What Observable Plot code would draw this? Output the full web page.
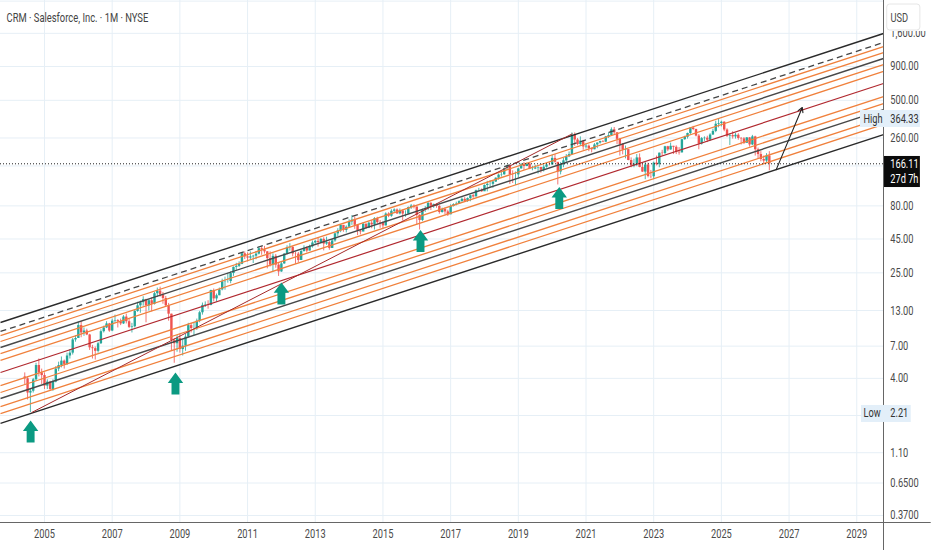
<!DOCTYPE html>
<html><head><meta charset="utf-8">
<script src="https://cdn.jsdelivr.net/npm/d3@7"></script>
<script src="https://cdn.jsdelivr.net/npm/@observablehq/plot@0.6"></script>
<style>html,body{margin:0;padding:0;background:#fff;overflow:hidden}svg{display:block}</style>
</head><body><div id="chart"></div>
<script>
const firstMonth = 2004 + 5/12;
const firstOpen = 4.1;
const closes = [
3.97,3.1,3.2,3.9,5.0,4.4,4.2,
3.5,3.75,3.3,3.75,4.7,5.0,5.4,5.1,5.9,6.2,7.8,8.0,
10.0,8.8,9.1,8.5,6.8,6.7,6.4,7.3,9,9.6,10.3,9.1,
10.8,10.9,10.7,10.3,11.6,10.7,9.7,9.8,12.8,14.1,14.9,15.7,
14.1,15.4,14.5,17.4,18.2,17,16,14.1,12.2,7.7,7.3,8,
6.6,7,8.2,10,9.5,9.5,10.8,12.5,14.2,14.3,14.2,18.4,
15.9,16.8,18.6,21.4,21.5,21.5,24.7,27.5,28,29,34.8,33,
32.3,33,33.4,34.6,38,37.2,36,32,28.6,33.3,28.6,25.4,
29.2,34.6,38.6,38.9,34.7,34.6,31,36.2,38.2,36.5,39.3,42,
43.2,42.3,44.7,41.2,42.3,38.2,43.5,49.2,51.9,57,52.2,55.2,
60.5,62.4,57.1,51.6,50.8,58.1,54.3,59.2,57.5,64,59.8,59.3,
56.5,69.4,66.8,72.8,74.5,69.6,73.2,69.4,69.4,77.7,79.7,78.4,
68,62.1,73.8,75.8,83.7,79.4,81.8,79.3,71.3,75.2,72,68.5,
79.1,81.8,82.5,86.1,89.6,86.6,90.8,95.4,93.4,104.1,104.4,102.2,
113.9,116.3,116.3,121,129.3,136.4,137.2,152.7,159,137.2,137,137,
152,163,158.4,165.4,151.4,151.7,154.5,156,148.4,156.5,162.8,162.6,
182.4,170.4,144,162.9,174.9,187.3,195,272.6,251,232.3,246,222.5,
225.6,216.4,211.9,230.3,238.1,244.3,242,265.3,271.2,299.7,284.6,254.1,
232.3,210.5,212.3,175.9,160.2,165,184,156,143.8,162.6,133,132.6,
168.1,163.6,199.8,198.3,223.2,211.3,225,221.3,202.8,200.8,252.3,263.1,
281.1,308.8,301.2,268.9,234.4,257,259,250,273.7,291.4,330,334.3,
341.7,298.6,268.3,271,265,272.7,258,256,237,260.4,230.5,265,
212,195,179,174,190,166.11];
const highs = [
4.4,4.1,3.3,4.0,5.2,5.6,4.7,
4.4,3.9,3.8,3.9,4.9,5.3,5.8,5.5,6.2,6.6,8,8.4,
10.6,10.7,9.6,9.4,8.6,7.1,6.9,7.5,9.3,9.9,10.7,10.4,
11.2,12,11.1,11.2,11.9,12.2,11.3,10.4,13.1,15,15.3,16.5,
15.8,15.7,16.2,17.8,19.2,19.5,17.8,16.6,14.7,12.2,8,8.4,
8.6,7.8,8.6,10.4,10.4,10.5,11.2,12.8,14.8,15.1,15.4,18.5,
18.9,17.3,19.2,22.4,23.2,24.8,25.5,27.7,29.5,30.3,35.3,36,
35.4,36,33.9,36.2,39.2,39.4,39.6,36.2,36,34.8,34.4,29.9,
29.9,35,40,41.5,39.5,35.8,35.6,37,40,39.2,40.4,43.5,
44,46,45.3,46,46.4,43,44.6,50,53.8,57.8,57,56.5,
62.8,67.5,66,57.5,52.9,59.9,58.7,60.2,61.7,65.2,65.6,62,
60.6,70.9,71,74.8,76,75.9,75.8,74.4,73.4,78.5,82,81.5,
78.3,68.4,75.6,79,84.5,84.5,82.6,82.8,80.3,76.9,77,74.2,
81.5,83,85.3,87.4,91.8,92.3,91.9,96.1,97.5,105.1,108.5,107.3,
115,122.5,124,123,130,139,143,154,162,161,147,144,
154,167,170,168,168,159,162,157,155,161,165,170,
193,195,169,170,183,195,204,284,284,258,265,250,
234,230,218,236,239,246,249,267,285,310,312,285,
258,236,226,213,184,180,195,197,165,170,168,148,
171,190,200,210,225,225,238,225,227,220,254,268,
283,310,318,303,276,262,265,268,280,303,348,364.33,
348,345,305,278,290,282,280,262,262,262,262,272,
268,218,205,190,198,205];
const lows = [
3.6,2.75,2.21,3.1,3.8,4.1,3.6,
3.3,3.3,3.2,3.2,3.7,4.5,4.8,4.7,5,5.6,6,7.5,
8,8.1,8.3,8.4,6.5,5.6,5.5,6.2,7.2,8.8,9.5,8.9,
9,10.4,9.6,10,10.2,10.3,9.5,8.8,9.6,12.6,12.4,14,
10.5,12.9,12.7,14.3,16.3,16.4,14.5,13.8,10.8,6.4,5.2,6.3,
6.2,5.9,6.4,8.1,8.8,8.4,9.2,10.5,12,13.7,13.3,14.1,
15.1,15,16.8,18.3,18.5,20.9,20.7,23.5,26.1,27.4,28.8,31.5,
30.2,31,29.4,31.4,34.1,33.9,34.7,26.8,27.7,25.5,27.1,23.5,
25.2,29,34.1,36.5,33,29,29.8,31,35.8,35.4,36.6,38.4,
41.1,39.1,41.3,36.6,40.3,37,38.2,42.5,46.8,50.2,50.6,50,
54.5,57,53.2,47.7,48.3,50.9,53.2,53.9,53.8,52.6,58.3,54.2,
53.4,56.3,65.2,65.6,70.5,68.8,68.4,61.5,65.6,68.6,75.2,75.9,
57.5,52.6,60.9,71.4,73.6,73.8,76.6,76.7,69.2,70.4,68.3,66.5,
68.6,78.4,80,82.4,85.5,86,85,85.9,91.3,93.8,103,101,
102.5,102,109.3,108.5,120,125,132,136,148,116,118,114,
130,151,148,158,150,147,150,139,141,144,154,160,
163,168,115,137,155,165,185,192,225,227,225,210,
215,205,201,212,216,234,240,240,258,270,275,232,
190,194,181,175,155,155,158,155,143,126,130,128,
126,160,155,190,195,205,210,195,195,193,200,250,
255,275,295,265,212,230,245,240,245,272,285,310,
315,290,262,228,255,255,250,230,232,238,222,228,
190,180,172,164,170,147];

const xDomain = [2003.70, 2029.79];
const yDomain = [0.3275, 2830];
const yearTicks = [2005,2007,2009,2011,2013,2015,2017,2019,2021,2023,2025,2027,2029];
const priceTicks = [1600,900,500,260,160,80,45,25,13,7,4,2.1,1.1,0.65,0.37];
const priceLabels = ["1,600.00","900.00","500.00","260.00","160.00","80.00","45.00","25.00","13.00","7.00","4.00","2.10","1.10","0.6500","0.3700"];

// Channel lines: price at the left and right edges of the plot, and their kinds
const channelLeft  = [10.55,9.03,8.42,7.59,6.84,6.16,5.46,4.43,3.53,3.13,2.82,2.45,2.17,1.83];
const channelRight = [1595,1365,1273,1147,1033,931,825,670,534,473,426,371,329,276];
const channelKind  = ["edge","dash","fib","fib","mid","fib","fib","median","fib","fib","mid","fib","fib","edge"];
const kindColor = {edge:"#2a2a2a",dash:"#444444",fib:"#f0803c",mid:"#484848",median:"#b0292f"};
const kindWidth = {edge:1.4,dash:1.3,fib:1.3,mid:1.4,median:1.2};

const signalYears  = [2004.59,2008.87,2012.0,2016.11,2020.21];
const signalPrices = [1.59,3.66,17.5,43.5,91.7];

const lastPrice = 166.11, highPrice = 364.33, lowPrice = 2.21;
const font = "Roboto,sans-serif";
const textColor = "#4a4a4a";

const candles = closes.map((c,i)=>({
  t: firstMonth + i/12, o: i ? closes[i-1] : firstOpen, c, h: highs[i], l: lows[i],
  col: c >= (i ? closes[i-1] : firstOpen) ? "#26a69a" : "#ef5350"
}));
const channels = channelLeft.map((v,i)=>({l:v,r:channelRight[i],k:channelKind[i]}));
const signals = signalYears.map((x,i)=>({x,y:signalPrices[i]}));
const axisLabels = priceTicks.map((y,i)=>({x:2029.99,y,t:priceLabels[i]}));
const upArrow = {draw(ctx,size){
  const k = Math.sqrt(size/Math.PI);
  ctx.moveTo(0,-k); ctx.lineTo(.7*k,-.05*k); ctx.lineTo(.36*k,-.05*k);
  ctx.lineTo(.36*k,k); ctx.lineTo(-.36*k,k); ctx.lineTo(-.36*k,-.05*k);
  ctx.lineTo(-.7*k,-.05*k); ctx.closePath();
}};
const boxes = [
  {x1:2029.11,x2:2030.88,y1:312,y2:419,fill:"#e3eff9"},
  {x1:2029.14,x2:2030.61,y1:1.86,y2:2.50,fill:"#e3eff9"},
  {x1:2029.82,x2:2030.88,y1:110,y2:188.6,fill:"#0b0b0b"}
];
const labels = [
  {x:2029.2,y:highPrice,t:"High",fill:"#333"},
  {x:2029.99,y:highPrice,t:"364.33",fill:"#333"},
  {x:2029.2,y:lowPrice,t:"Low",fill:"#333"},
  {x:2029.99,y:lowPrice,t:"2.21",fill:"#333"},
  {x:2029.99,y:lastPrice,t:"166.11",fill:"#fff"},
  {x:2029.99,y:126.5,t:"27d 7h",fill:"#fff"}
];

const plot = Plot.plot({
  width:932, height:550, marginLeft:0, marginRight:49, marginTop:0, marginBottom:28,
  style:{fontFamily:font, fontSize:"12px", background:"#fff", color:textColor},
  x:{type:"linear", domain:xDomain},
  y:{type:"log", domain:yDomain, axis:null},
  marks:[
    Plot.gridX(yearTicks,{stroke:"#e6eff6",strokeOpacity:1}),
    Plot.gridY([2800,...priceTicks],{stroke:"#e6eff6",strokeOpacity:1}),
    Plot.ruleX(candles,{x:"t",y1:"l",y2:"h",stroke:"col",strokeWidth:1,strokeOpacity:.8}),
    Plot.ruleX(candles,{x:"t",y1:"o",y2:"c",stroke:"col",strokeWidth:2.4}),
    Plot.link(channels.filter(d=>d.k!=="dash"),{x1:()=>xDomain[0],x2:()=>xDomain[1],y1:"l",y2:"r",
      stroke:d=>kindColor[d.k],strokeWidth:d=>kindWidth[d.k]}),
    Plot.link(channels.filter(d=>d.k==="dash"),{x1:()=>xDomain[0],x2:()=>xDomain[1],y1:"l",y2:"r",
      stroke:d=>kindColor[d.k],strokeWidth:d=>kindWidth[d.k],strokeDasharray:"6,4"}),
    Plot.link([{a:2004.62,b:2.21,c:2020.6,d:280}],{x1:"a",y1:"b",x2:"c",y2:"d",stroke:"#a52a2a",strokeWidth:1}),
    Plot.arrow([{a:2026.62,b:150,c:2027.39,d:441}],{x1:"a",y1:"b",x2:"c",y2:"d",bend:0,headLength:7,stroke:"#222",strokeWidth:1.1}),
    Plot.dot(signals,{x:"x",y:"y",r:11,symbol:upArrow,fill:"#0b9a82",stroke:"none"}),
    Plot.ruleY([lastPrice],{x1:xDomain[0],x2:xDomain[1],stroke:"#222",strokeDasharray:"1,2",strokeWidth:1}),
    Plot.ruleX([xDomain[1]],{y1:0.01,y2:1e5,stroke:"#666"}),
    Plot.ruleY([yDomain[0]],{x1:2003,x2:2031.2,stroke:"#666"}),
    Plot.axisX({ticks:yearTicks,tickSize:0,tickPadding:7,tickFormat:d=>String(d),label:null,fontSize:12.5,fill:textColor,anchor:"bottom"}),
    Plot.text(axisLabels,{x:"x",y:"y",text:"t",textAnchor:"start",fill:textColor,fontSize:12.5}),
    Plot.rect([{x1:2029.85,x2:2031.2,y1:1652,y2:2830}],{x1:"x1",x2:"x2",y1:"y1",y2:"y2",fill:"#fff"}),
    Plot.rect([{x1:2029.90,x2:2030.88,y1:1681,y2:2640}],{x1:"x1",x2:"x2",y1:"y1",y2:"y2",fill:"#fff",stroke:"#e6e6e6",rx:3}),
    Plot.text([{x:2030.0,y:2105}],{x:"x",y:"y",text:()=>"USD",textAnchor:"start",fill:textColor,fontSize:12.5}),
    Plot.rect(boxes,{x1:"x1",x2:"x2",y1:"y1",y2:"y2",fill:d=>d.fill}),
    Plot.text(labels,{x:"x",y:"y",text:"t",fill:"fill",textAnchor:"start",fontSize:12.5}),
    Plot.text([{x:2003.88,y:2105}],{x:"x",y:"y",text:()=>"CRM · Salesforce, Inc. · 1M · NYSE",textAnchor:"start",fill:"#444",fontSize:12.7})
  ]
});
document.getElementById("chart").append(plot);
// The reference's type is horizontally condensed: narrow every label the same way.
plot.querySelectorAll("text").forEach(t=>{
  const len = t.getComputedTextLength();
  if (len>0){ t.setAttribute("textLength",(len*0.74).toFixed(1)); t.setAttribute("lengthAdjust","spacingAndGlyphs"); }
});
</script></body></html>
